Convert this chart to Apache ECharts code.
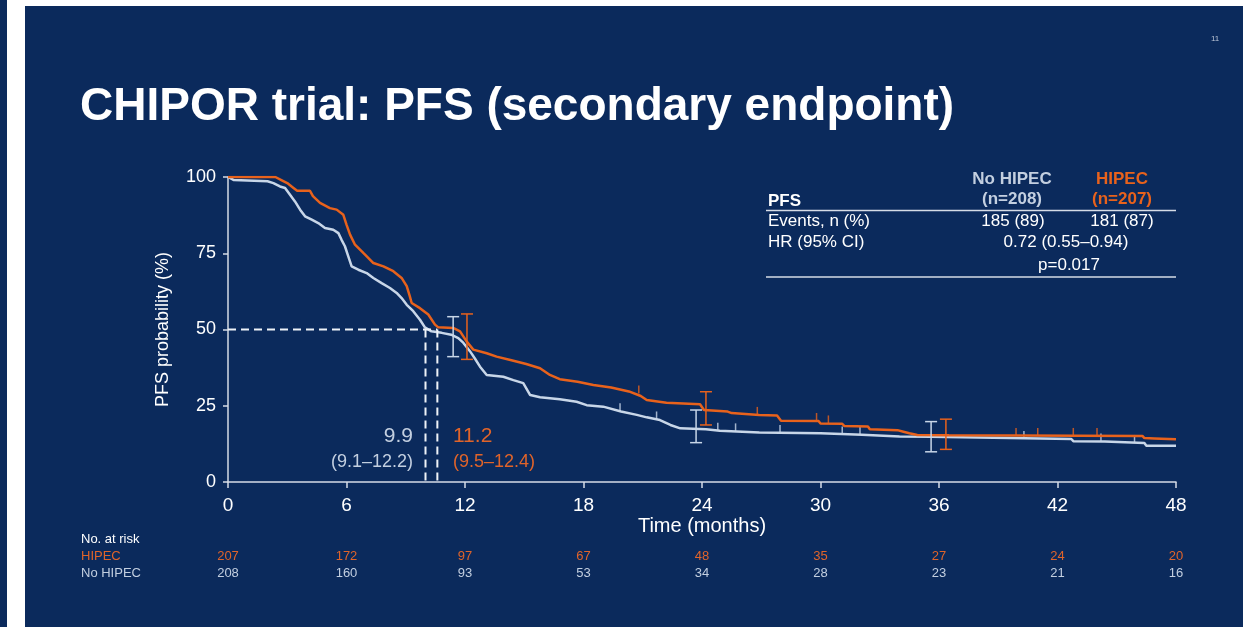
<!DOCTYPE html>
<html>
<head>
<meta charset="utf-8">
<script src="https://cdn.jsdelivr.net/npm/echarts@6/dist/echarts.min.js"></script>
<style>
html,body{margin:0;padding:0;background:#ffffff;}
#c{width:1243px;height:627px;}
</style>
</head>
<body>
<div id="c"></div>
<script>
// ---------- data ----------
const xTicks = [0, 6, 12, 18, 24, 30, 36, 42, 48];
const riskHIPEC = [207, 172, 97, 67, 48, 35, 27, 24, 20];
const riskNoHIPEC = [208, 160, 93, 53, 34, 28, 23, 21, 16];

const kmHIPEC = [[0,100],[2.4,100],[2.7,99],[3.0,98],[3.3,96.5],[3.5,95.5],[4.15,95.5],[4.3,93.7],[4.66,91.5],[5.16,89.8],[5.5,89.3],[5.84,87.6],[6.0,84.4],[6.18,81.1],[6.43,77.8],[6.85,75.1],[7.1,73.5],[7.36,71.8],[7.87,70.7],[8.37,69.1],[8.79,66.9],[9.05,64.2],[9.2,61],[9.3,58.7],[9.72,57],[10.14,54.9],[10.48,51.6],[10.65,50.7],[11.4,50.5],[11.75,49.4],[12.08,46.1],[12.42,43.4],[13.1,42.2],[13.6,41.1],[14.3,40.0],[15.1,38.7],[15.8,37.3],[16.3,35.1],[16.8,33.7],[17.7,32.9],[18.5,31.8],[19.4,31.0],[20.3,29.7],[20.9,28.2],[21.2,26.9],[22.2,26.0],[23.9,25.5],[24.1,23.6],[25.3,23.1],[25.5,22.6],[26.9,22.0],[27.8,21.8],[28.0,20.1],[29.9,20.0],[30.0,19.2],[31.1,19.1],[31.2,18.4],[32.4,18.2],[32.5,17.3],[33.9,17.0],[34.2,16.5],[34.5,16.0],[34.9,15.4],[36.5,15.3],[36.6,15.1],[46.3,15.1],[46.4,14.4],[46.9,14.3],[47.0,14.0],[48,14.0]];

const kmNoHIPEC = [[0,100],[0.3,99.0],[2.0,98.6],[2.3,98],[2.63,96.9],[2.89,96.4],[3.14,94.2],[3.39,92],[3.65,89.3],[3.9,87.1],[4.24,86],[4.57,84.9],[4.91,83.3],[5.33,82.7],[5.59,81.6],[5.75,79.4],[5.92,77.3],[6.09,74],[6.26,70.7],[6.6,69.6],[7.02,68.5],[7.36,66.9],[7.78,65.2],[8.2,63.6],[8.54,62],[8.79,60.3],[9.05,58.1],[9.38,56],[9.72,53.2],[9.97,50.7],[10.3,49.4],[10.82,48.9],[11.3,48.3],[11.66,47.2],[11.92,45.6],[12.25,42.9],[12.5,40.5],[12.76,37.8],[13.1,35.1],[13.94,34.5],[14.45,33.4],[14.95,32.4],[15.3,28.5],[15.8,27.8],[16.8,27.1],[17.65,26.3],[18.16,25.2],[19.0,24.7],[19.9,23.1],[20.7,22.0],[21.2,21.2],[21.87,20.3],[22.4,18.7],[22.9,17.6],[24.2,17.3],[24.9,16.8],[26.9,16.2],[30.0,16.0],[30.1,15.6],[32.1,15.5],[32.2,15.2],[34.0,14.9],[35.6,14.8],[35.7,14.2],[42.7,14.1],[42.8,13.4],[44.4,13.3],[44.5,12.9],[46.4,12.8],[46.5,11.9],[48,11.9]];

const censorHIPEC = [[20.8,29.0],[26.8,22.0],[29.8,20.0],[30.4,19.2],[39.9,15.1],[41.0,15.1],[42.8,15.1],[44.0,15.1]];
const censorNoHIPEC = [[19.85,23.2],[21.7,20.5],[24.8,16.8],[25.7,16.6],[27.95,16.1],[31.1,15.6],[32.0,15.5],[40.3,14.1],[44.2,13.3],[45.9,12.8]];

// [time, lower, upper]
const ciHIPEC = [[12.1,40.2,55.1],[24.2,18.7,29.6],[36.35,10.7,20.6]];
const ciNoHIPEC = [[11.4,41.1,54.2],[23.7,12.9,23.6],[35.6,9.9,19.8]];

// median guide lines (positions as drawn)
const medianHLine = [[0,50],[10.6,50]];
const medianNoHIPECLine = [[10.0,50],[10.0,0]];
const medianHIPECLine = [[10.6,50],[10.6,0]];

// ---------- style ----------
const NAVY = '#0b2a5c';
const ORANGE = '#e8621c';
const ORANGE_TXT = '#e0642a';
const LIGHT = '#c8d6e8';
const LIGHT_TXT = '#c3cfe0';
const WHITE = '#ffffff';
const FONT = '"Liberation Sans", Arial, sans-serif';

const chart = echarts.init(document.getElementById('c'), null, {renderer:'canvas'});

function ciRender(color){
  return function(params, api){
    const t = api.value(0);
    const a = api.coord([t, api.value(1)]);
    const b = api.coord([t, api.value(2)]);
    const hw = 6;
    const st = {stroke: color, lineWidth: 1.5};
    return {type:'group', children:[
      {type:'line', shape:{x1:a[0],y1:a[1],x2:b[0],y2:b[1]}, style:st},
      {type:'line', shape:{x1:a[0]-hw,y1:a[1],x2:a[0]+hw,y2:a[1]}, style:st},
      {type:'line', shape:{x1:b[0]-hw,y1:b[1],x2:b[0]+hw,y2:b[1]}, style:st}
    ]};
  };
}

function txt(text, x, y, opt){
  opt = opt || {};
  return {type:'text', x:x, y:y, silent:true, style:{
    text:text, fill:opt.fill||WHITE,
    font:(opt.weight||'normal')+' '+(opt.size||16)+'px '+FONT,
    textAlign:opt.align||'left', textVerticalAlign:'middle'
  }};
}
function hline(x1,x2,y,color,w){
  return {type:'line', silent:true, shape:{x1:x1,y1:y,x2:x2,y2:y}, style:{stroke:color, lineWidth:w||1.5}};
}

const xAxisBase = {
  type:'value', min:0, max:48, interval:6, gridIndex:0
};

const option = {
  backgroundColor: NAVY,
  animation:false,
  grid:{left:228, right:67, top:177, bottom:145},
  xAxis:[
    Object.assign({}, xAxisBase, {
      position:'bottom',
      name:'Time (months)', nameLocation:'middle', nameGap:34,
      nameTextStyle:{color:WHITE, fontSize:20, fontFamily:FONT},
      axisLine:{show:true, onZero:false, lineStyle:{color:'#d6dce6', width:1.5}},
      axisTick:{show:true, length:6, inside:false, lineStyle:{color:'#d6dce6', width:1.5}},
      axisLabel:{color:WHITE, fontSize:19, fontFamily:FONT, margin:14},
      splitLine:{show:false}
    }),
    Object.assign({}, xAxisBase, {
      position:'bottom', offset:62,
      axisLine:{show:false}, axisTick:{show:false}, splitLine:{show:false},
      axisLabel:{color:ORANGE_TXT, fontSize:13, fontFamily:FONT, margin:6,
        formatter:function(v){ const i = xTicks.indexOf(v); return i>=0 ? String(riskHIPEC[i]) : ''; }}
    }),
    Object.assign({}, xAxisBase, {
      position:'bottom', offset:79,
      axisLine:{show:false}, axisTick:{show:false}, splitLine:{show:false},
      axisLabel:{color:LIGHT_TXT, fontSize:13, fontFamily:FONT, margin:6,
        formatter:function(v){ const i = xTicks.indexOf(v); return i>=0 ? String(riskNoHIPEC[i]) : ''; }}
    })
  ],
  yAxis:{
    type:'value', min:0, max:100, interval:25,
    name:'PFS probability (%)', nameLocation:'middle', nameGap:56, nameRotate:90,
    nameTextStyle:{color:WHITE, fontSize:18, fontFamily:FONT},
    axisLine:{show:true, lineStyle:{color:'#d6dce6', width:1.5}},
    axisTick:{show:true, length:5, lineStyle:{color:'#d6dce6', width:1.5}},
    axisLabel:{color:WHITE, fontSize:18, fontFamily:FONT, margin:12},
    splitLine:{show:false}
  },
  series:[
    {type:'line', name:'No HIPEC', data:kmNoHIPEC, showSymbol:false,
      lineStyle:{color:LIGHT, width:2.5}, z:3},
    {type:'line', name:'HIPEC', data:kmHIPEC, showSymbol:false,
      lineStyle:{color:ORANGE, width:2.5}, z:4},
    {type:'scatter', data:censorNoHIPEC, symbol:'rect', symbolSize:[1.5,8], symbolOffset:[0,-4],
      itemStyle:{color:LIGHT}, z:3},
    {type:'scatter', data:censorHIPEC, symbol:'rect', symbolSize:[1.5,8], symbolOffset:[0,-4],
      itemStyle:{color:ORANGE}, z:4},
    {type:'custom', data:ciNoHIPEC, renderItem:ciRender(LIGHT), encode:{x:0, y:[1,2]}, z:5},
    {type:'custom', data:ciHIPEC, renderItem:ciRender(ORANGE), encode:{x:0, y:[1,2]}, z:5},
    {type:'line', data:medianHLine, showSymbol:false, lineStyle:{color:'#eef2f7', width:2, type:[8,5]}, z:6},
    {type:'line', data:medianNoHIPECLine, showSymbol:false, lineStyle:{color:'#eef2f7', width:2, type:[8,5]}, z:6},
    {type:'line', data:medianHIPECLine, showSymbol:false, lineStyle:{color:'#eef2f7', width:2, type:[8,5]}, z:6}
  ],
  graphic:[
    {type:'rect', silent:true, shape:{x:7,y:0,width:18,height:627}, style:{fill:'#ffffff'}},
    {type:'rect', silent:true, shape:{x:25,y:0,width:1218,height:6}, style:{fill:'#ffffff'}},
    txt('11', 1211, 39, {size:8, fill:'#b9c3d4'}),
    txt('CHIPOR trial: PFS (secondary endpoint)', 80, 107, {size:46, weight:'bold'}),
    // summary table
    txt('No HIPEC', 1012, 179, {size:17, weight:'bold', fill:LIGHT_TXT, align:'center'}),
    txt('(n=208)', 1012, 199, {size:17, weight:'bold', fill:LIGHT_TXT, align:'center'}),
    txt('HIPEC', 1122, 179, {size:17, weight:'bold', fill:ORANGE, align:'center'}),
    txt('(n=207)', 1122, 199, {size:17, weight:'bold', fill:ORANGE, align:'center'}),
    txt('PFS', 768, 201, {size:17, weight:'bold'}),
    hline(766, 1176, 210.5, '#d6dce6', 1.5),
    txt('Events, n (%)', 768, 221.5, {size:17}),
    txt('185 (89)', 1013, 221.5, {size:17, align:'center'}),
    txt('181 (87)', 1122, 221.5, {size:17, align:'center'}),
    txt('HR (95% CI)', 768, 242, {size:17}),
    txt('0.72 (0.55\u20130.94)', 1066, 242, {size:17, align:'center'}),
    txt('p=0.017', 1069, 265, {size:17, align:'center'}),
    hline(766, 1176, 277, '#d6dce6', 1.5),
    // medians
    txt('9.9', 413, 436, {size:21, fill:LIGHT_TXT, align:'right'}),
    txt('(9.1\u201312.2)', 413, 462, {size:18, fill:LIGHT_TXT, align:'right'}),
    txt('11.2', 453, 436, {size:21, fill:ORANGE_TXT}),
    txt('(9.5\u201312.4)', 453, 462, {size:18, fill:ORANGE_TXT}),
    // at-risk labels
    txt('No. at risk', 81, 539, {size:13}),
    txt('HIPEC', 81, 556, {size:13, fill:ORANGE_TXT}),
    txt('No HIPEC', 81, 573, {size:13, fill:LIGHT_TXT})
  ]
};
chart.setOption(option);
</script>
</body>
</html>
